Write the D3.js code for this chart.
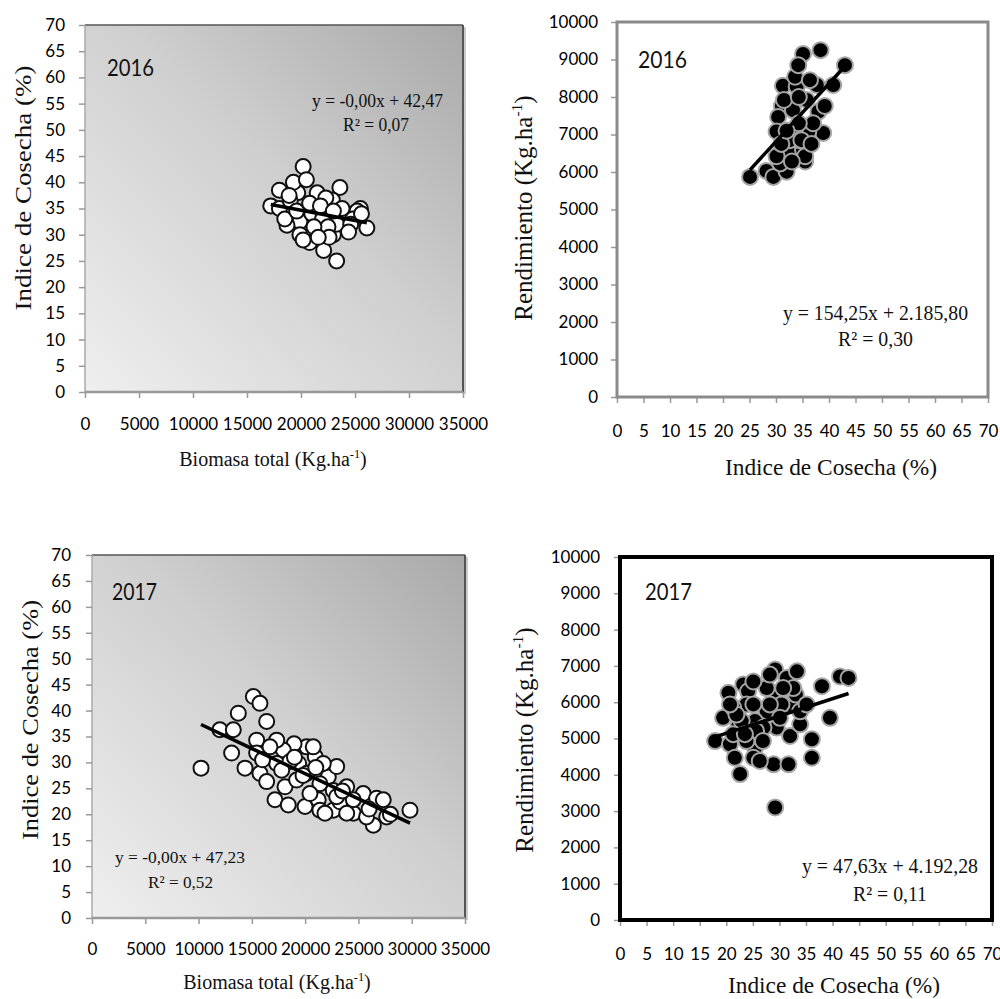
<!DOCTYPE html>
<html><head><meta charset="utf-8">
<script src="https://cdn.jsdelivr.net/npm/d3@7"></script>
<style>body{margin:0;background:#fff}svg{display:block}</style>
</head><body>
<svg id="c" width="1000" height="999"></svg>
<script>
// ---------- DATA ----------
// Panel A: 2016, Biomasa total vs Indice de Cosecha
const biomasa2016 = [20200,17200,18000,23600,19700,21500,22900,19900,23300,22100,20800,24200,26100,25500,24300,18700,21500,23000,19900,18000,19300,19000,23300,20500,22300,21000,22000,25200,24800,18500,19600,20800,21800,23800,24600,25600,22500,20200,21200,18900,23000,22600,24400,21600];
const icA2016    = [43,35.5,38.5,39,38,38,36.6,32.5,25,27,28.5,31.3,31.3,35,34,31.8,31,30,30,35,40,36.5,32,40.5,37,34,33,34.5,33,33,34.5,36,35.5,35,32,34,31.5,29,31.5,37.5,34.5,29.5,30.5,29.5];
// Panel B: 2016, Indice de Cosecha vs Rendimiento
const icB2016    = [25.1,28.2,29.5,32,30.8,32.3,31.3,31.1,30.4,30.1,35.1,38.4,43,40.8,37.7,38,39.2,38.9,36.1,33.6,33.9,33.6,34.2,36.4,35.1,35.5,35.5,34.5,33.2,37,35.8,31.5,34.3,32.6,30.1,31,34.8,36.7,33,34.3,32];
const rend2016   = [5870,6030,5870,6010,6230,6540,8300,7760,7470,7080,9150,9250,8850,8320,8320,7610,7760,7040,7080,7170,8280,8540,8850,8450,6590,6280,6420,6850,7650,7300,7920,7920,8000,6850,6420,6750,6850,6750,6280,7300,7100];
// Panel C: 2017, Biomasa total vs Indice de Cosecha
const biomasa2017 = [10230,12000,13260,13730,13100,14360,15140,15760,16390,15450,15450,15760,16390,17170,18420,18110,19990,20140,18960,17950,17330,19390,20950,20170,21230,22170,22640,22960,23270,23900,24520,25450,26400,26710,27330,27650,29840,22640,21390,19200,18580,20760,17330,16700,21700,22960,24520,20450,21390,21860,25760,23900,16000,17800,19800,21000,23500,19000,26000,28000];
const icC2017     = [28.9,36.3,36.3,39.5,31.8,28.9,42.7,41.4,37.9,34.3,31.8,27.9,26.3,22.8,21.8,25.3,21.5,33,33.6,32.4,29.8,29.8,31.1,27.9,22.8,27.2,20.8,29.2,22.4,25.3,20.2,24,17.9,23.1,22.8,19.5,20.8,24.6,25.9,26.6,30.2,33,34.3,33,29.8,23.4,22.8,24,20.8,20.2,19.5,20.2,30.5,28.5,27.5,29,24.5,31,21,20];
// Panel D: 2017, Indice de Cosecha vs Rendimiento
const icD2017   = [17.9,19.4,20.4,20.7,21.6,22.6,22.3,23.2,24.1,25.4,26.3,27.6,28.9,29.2,29.2,29.5,29.5,31.4,32,31.7,32,33.3,33.1,33.9,36.1,36.1,38,39.5,41.4,43,25.4,27,25.6,23.8,21.3,27.6,30.4,28.2,25.1,22.9,21.3,25.1,26.3,30.1,33.9,32.6,35.1,23.8,21.9,20.7,30.7,25.1,26.9,23.5,28.2];
const rend2017  = [4930,5570,6260,4840,4470,4020,5340,6490,6300,4750,5020,5750,4290,3100,6900,6210,5300,6670,5070,4290,5940,6850,6210,5390,4980,4470,6440,5570,6710,6670,5480,5300,5210,5940,5850,6390,5940,5940,5940,5480,5120,4470,4380,5570,5750,6390,5940,4930,5660,5940,6390,6570,4930,5120,6760];
// Trend lines (slope, intercept) and labels
const trendSlopes     = [-0.00039, 154.25, -0.00097, 47.63];
const trendIntercepts = [42.47, 2185.80, 47.23, 4192.28];
const eqLabels  = ["y = -0,00x + 42,47", "y = 154,25x + 2.185,80", "y = -0,00x + 47,23", "y = 47,63x + 4.192,28"];
const r2Labels  = ["R² = 0,07", "R² = 0,30", "R² = 0,52", "R² = 0,11"];
const yearLabels = ["2016", "2016", "2017", "2017"];
const biomasaTicks = [0,5000,10000,15000,20000,25000,30000,35000];
const icTicks      = [0,5,10,15,20,25,30,35,40,45,50,55,60,65,70];
const rendTicks    = [0,1000,2000,3000,4000,5000,6000,7000,8000,9000,10000];

// ---------- DRAW ----------
const svg = d3.select("#c");
const defs = svg.append("defs");
const grad = defs.append("linearGradient").attr("id","bg").attr("x1",0).attr("y1",1).attr("x2",1).attr("y2",0);
grad.append("stop").attr("offset","0%").attr("stop-color","#efefef");
grad.append("stop").attr("offset","55%").attr("stop-color","#cfcfcf");
grad.append("stop").attr("offset","100%").attr("stop-color","#a9a9a9");

const SANS = "Lato, 'Open Sans', sans-serif";
const SERIF = "'Liberation Serif', 'Times New Roman', serif";

const panels = [
  {xs:biomasa2016, ys:icA2016, xt:biomasaTicks, yt:icTicks, xd:[0,35000], yd:[0,70],
   box:{x0:85,x1:463,y0:25,y1:392}, kind:"A", ytr:20, xtb:38, fs:17,
   ylab:{x:31,cy:188,len:245,txt:"Indice de Cosecha (%)",sup:null}, xlab:{cx:273,y:466,fs:20,txt:"Biomasa total (Kg.ha",sup:"-1"},
   year:{x:107,y:76,len:47}, eq:{x:312,y:107,len:131,fs:18}, r2:{x:343,y:131,len:66,fs:18}},
  {xs:icB2016, ys:rend2016, xt:icTicks, yt:rendTicks, xd:[0,70], yd:[0,10000],
   box:{x0:617,x1:988,y0:22,y1:397}, kind:"B", ytr:19, xtb:40, fs:17,
   ylab:{x:532,cy:208,fs:25,txt:"Rendimiento (Kg.ha",sup:"-1"}, xlab:{cx:831,y:475,len:212,txt:"Indice de Cosecha (%)",sup:null},
   year:{x:638,y:68,len:49}, eq:{x:783,y:320,len:185,fs:21}, r2:{x:838,y:346,len:75,fs:21}},
  {xs:biomasa2017, ys:icC2017, xt:biomasaTicks, yt:icTicks, xd:[0,35000], yd:[0,70],
   box:{x0:92,x1:465,y0:555,y1:918}, kind:"A", ytr:21, xtb:37, fs:17,
   ylab:{x:38,cy:720,len:240,txt:"Indice de Cosecha (%)",sup:null}, xlab:{cx:277,y:989,fs:20,txt:"Biomasa total (Kg.ha",sup:"-1"},
   year:{x:112,y:600,len:45}, eq:{x:115,y:863,len:130,fs:17}, r2:{x:148,y:888,len:65,fs:17}},
  {xs:icD2017, ys:rend2017, xt:icTicks, yt:rendTicks, xd:[0,70], yd:[0,10000],
   box:{x0:620,x1:992,y0:557,y1:920}, kind:"D", ytr:20, xtb:40, fs:17,
   ylab:{x:533,cy:740,fs:25,txt:"Rendimiento (Kg.ha",sup:"-1"}, xlab:{cx:834,y:993,len:212,txt:"Indice de Cosecha (%)",sup:null},
   year:{x:645,y:600,len:47}, eq:{x:802,y:873,len:176,fs:21}, r2:{x:853,y:901,len:74,fs:21}}
];

function labelText(parent, cfg) {
  const t = parent.append("text").attr("font-family",SERIF).attr("fill","#111");
  if (cfg.sup) {
    t.attr("font-size",cfg.fs);
    t.append("tspan").text(cfg.txt);
    t.append("tspan").attr("dy",-cfg.fs*0.4).attr("font-size",cfg.fs*0.62).text(cfg.sup);
    t.append("tspan").attr("dy",cfg.fs*0.4).text(")");
  } else {
    t.attr("font-size",23).text(cfg.txt)
      .attr("textLength",cfg.len).attr("lengthAdjust","spacingAndGlyphs");
  }
  return t;
}

panels.forEach((p,i) => {
  const b = p.box;
  const x = d3.scaleLinear().domain(p.xd).range([b.x0,b.x1]);
  const y = d3.scaleLinear().domain(p.yd).range([b.y1,b.y0]);
  const g = svg.append("g");

  if (p.kind === "A") {
    g.append("rect").attr("x",b.x0).attr("y",b.y0).attr("width",b.x1-b.x0).attr("height",b.y1-b.y0).attr("fill","url(#bg)");
    g.append("line").attr("x1",b.x0).attr("x2",b.x1).attr("y1",b.y0).attr("y2",b.y0).attr("stroke","#555").attr("stroke-width",1.5);
    g.append("line").attr("x1",b.x1).attr("x2",b.x1).attr("y1",b.y0).attr("y2",b.y1).attr("stroke","#555").attr("stroke-width",2);
    g.append("line").attr("x1",b.x1+2).attr("x2",b.x1+2).attr("y1",b.y0+2).attr("y2",b.y1+2).attr("stroke","#ccc").attr("stroke-width",2);
    g.append("line").attr("x1",b.x0).attr("x2",b.x0).attr("y1",b.y0).attr("y2",b.y1).attr("stroke","#aaa").attr("stroke-width",1.5);
    g.append("line").attr("x1",b.x0).attr("x2",b.x1).attr("y1",b.y1).attr("y2",b.y1).attr("stroke","#999").attr("stroke-width",2.5);
  }

  const tickSize = 6;
  const yAx = d3.axisLeft(y).tickValues(p.yt).tickSize(tickSize).tickPadding(p.ytr - tickSize).tickFormat(d3.format("d"));
  const xAx = d3.axisBottom(x).tickValues(p.xt).tickSize(tickSize).tickPadding(p.xtb - tickSize - 0.71*p.fs).tickFormat(d3.format("d"));
  const ya = g.append("g").attr("transform",`translate(${b.x0},0)`).call(yAx);
  const xa = g.append("g").attr("transform",`translate(0,${b.y1})`).call(xAx);
  [ya,xa].forEach(a => {
    a.select(".domain").remove();
    a.selectAll(".tick line").attr("stroke","#999").attr("stroke-width",1.5);
    a.selectAll(".tick text").attr("font-family",SANS).attr("font-size",p.fs).attr("fill","#000");
  });

  if (p.kind === "B") {
    g.append("rect").attr("x",b.x0).attr("y",b.y0).attr("width",b.x1-b.x0).attr("height",b.y1-b.y0)
      .attr("fill","none").attr("stroke","#8a8a8a").attr("stroke-width",3);
  }
  if (p.kind === "D") {
    g.append("rect").attr("x",b.x0).attr("y",b.y0).attr("width",b.x1-b.x0).attr("height",b.y1-b.y0)
      .attr("fill","none").attr("stroke","#000").attr("stroke-width",4);
  }

  const pts = p.xs.map((v,k)=>[v,p.ys[k]]);
  const white = (p.kind === "A");
  g.append("g").selectAll("circle").data(pts).join("circle")
    .attr("cx",d=>x(d[0])).attr("cy",d=>y(d[1])).attr("r", white ? 7.5 : 8)
    .attr("fill", white ? "#fff" : "#000")
    .attr("stroke", white ? "#111" : "#a5a5a5")
    .attr("stroke-width", 2);

  const xmin = d3.min(p.xs), xmax = d3.max(p.xs);
  const f = v => trendSlopes[i]*v + trendIntercepts[i];
  g.append("path").datum([xmin,xmax])
    .attr("d", d3.line().x(v=>x(v)).y(v=>y(f(v))))
    .attr("stroke","#000").attr("stroke-width",3.5).attr("fill","none");

  g.append("text").attr("x",p.year.x).attr("y",p.year.y).text(yearLabels[i])
    .attr("font-family",SANS).attr("font-size",24).attr("fill","#111")
    .attr("textLength",p.year.len).attr("lengthAdjust","spacingAndGlyphs");

  g.append("text").attr("x",p.eq.x).attr("y",p.eq.y).text(eqLabels[i])
    .attr("font-family",SERIF).attr("font-size",p.eq.fs).attr("fill","#111")
    .attr("textLength",p.eq.len).attr("lengthAdjust","spacingAndGlyphs");
  g.append("text").attr("x",p.r2.x).attr("y",p.r2.y).text(r2Labels[i])
    .attr("font-family",SERIF).attr("font-size",p.r2.fs).attr("fill","#111")
    .attr("textLength",p.r2.len).attr("lengthAdjust","spacingAndGlyphs");

  const xl = labelText(g, p.xlab).attr("x",p.xlab.cx).attr("y",p.xlab.y).attr("text-anchor","middle");
  if (p.xlab.len) xl.attr("x",p.xlab.cx - p.xlab.len/2).attr("text-anchor","start");

  const yl = labelText(g, p.ylab);
  if (p.ylab.len) {
    yl.attr("transform",`translate(${p.ylab.x},${p.ylab.cy + p.ylab.len/2}) rotate(-90)`);
  } else {
    yl.attr("transform",`translate(${p.ylab.x},${p.ylab.cy}) rotate(-90)`).attr("text-anchor","middle");
  }
});
</script>
</body></html>
